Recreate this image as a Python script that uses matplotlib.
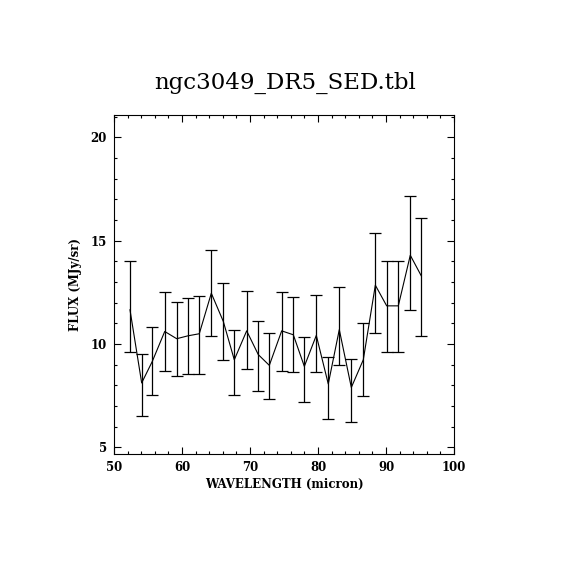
import matplotlib
matplotlib.use("Agg")
import matplotlib.pyplot as plt
from matplotlib.ticker import MultipleLocator

# wavelength (micron), flux (MJy/sr) and error bar ends
wavelength = [52.35, 54.07, 55.63, 57.46, 59.22, 60.88, 62.54, 64.31, 66.07,
              67.69, 69.51, 71.22, 72.84, 74.66, 76.37, 77.99, 79.75, 81.51,
              83.13, 84.90, 86.66, 88.43, 90.10, 91.81, 93.57, 95.19]
flux = [11.66, 8.12, 9.16, 10.61, 10.26, 10.40, 10.50, 12.46, 11.10,
        9.24, 10.64, 9.49, 8.97, 10.64, 10.45, 8.92, 10.42, 8.07,
        10.70, 7.90, 9.24, 12.85, 11.85, 11.85, 14.30, 13.30]
err_top = [14.04, 9.52, 10.82, 12.54, 12.03, 12.22, 12.35, 14.57, 12.95,
           10.69, 12.59, 11.13, 10.53, 12.51, 12.30, 10.34, 12.37, 9.37,
           12.78, 9.27, 11.01, 15.36, 14.04, 14.01, 17.16, 16.12]
err_bot = [9.61, 6.54, 7.55, 8.70, 8.47, 8.55, 8.55, 10.40, 9.24,
           7.55, 8.79, 7.74, 7.34, 8.70, 8.65, 7.20, 8.65, 6.38,
           9.00, 6.23, 7.50, 10.53, 9.61, 9.61, 11.66, 10.37]

lower = [f - b for f, b in zip(flux, err_bot)]
upper = [t - f for f, t in zip(flux, err_top)]

FONT = "DejaVu Serif"

fig = plt.figure(figsize=(5.7, 5.7), dpi=100)
ax = fig.add_axes([0.2, 0.2035, 0.5965, 0.5945])

ax.plot(wavelength, flux, color="black", linewidth=0.8)
ax.errorbar(wavelength, flux, yerr=[lower, upper], fmt="none",
            ecolor="black", elinewidth=0.9, capsize=4, capthick=0.9)

ax.set_xlim(50, 100)
ax.set_ylim(4.68, 21.08)
ax.xaxis.set_major_locator(MultipleLocator(10))
ax.xaxis.set_minor_locator(MultipleLocator(2))
ax.yaxis.set_major_locator(MultipleLocator(5))
ax.yaxis.set_minor_locator(MultipleLocator(1))
ax.tick_params(which="both", direction="in", top=True, right=True,
               width=0.8, colors="black")
ax.tick_params(which="major", length=5, labelsize=8.5, pad=5)
ax.tick_params(which="minor", length=2.5)
for lab in ax.get_xticklabels() + ax.get_yticklabels():
    lab.set_family(FONT)
    lab.set_fontweight("bold")
for s in ax.spines.values():
    s.set_linewidth(0.8)

ax.set_xlabel("WAVELENGTH (micron)", family=FONT,
              fontweight="bold", fontsize=8.5, labelpad=3)
ax.set_ylabel("FLUX (MJy/sr)", family=FONT,
              fontweight="bold", fontsize=8.5, labelpad=6)
fig.text(0.5, 1 - 83 / 570, "ngc3049_DR5_SED.tbl", family=FONT,
         fontsize=16.5, ha="center", va="center")

fig.savefig("out.png", dpi=100)
